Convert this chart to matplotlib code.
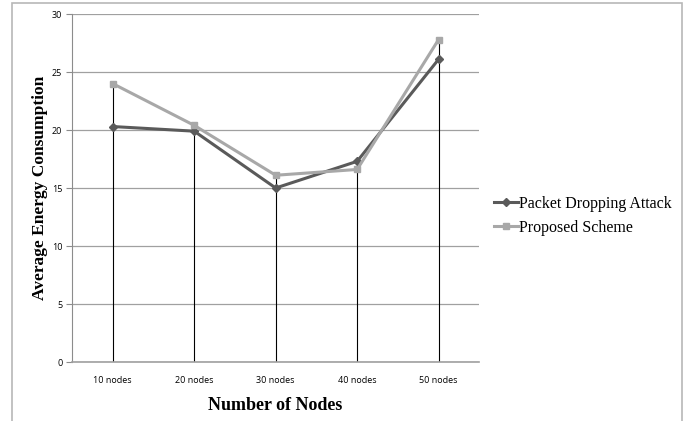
import matplotlib.pyplot as plt
import numpy as np
from matplotlib.patches import Rectangle

categories = ['10 nodes', '20 nodes', '30 nodes', '40 nodes', '50 nodes']
packet_dropping = [20.3, 19.9, 15.0, 17.3, 26.1]
proposed = [24.0, 20.4, 16.1, 16.6, 27.8]

fig = plt.figure(figsize=(6.88, 4.21), dpi=100)
ax = fig.add_axes([0.1047, 0.1401, 0.592, 0.8266])

x = np.arange(len(categories))

# outer chart border (bottom edge falls outside the image)
fig.add_artist(Rectangle((12/688, -0.05), 670/688, 1.05 - 3/421, transform=fig.transFigure,
                         fill=False, edgecolor='#b8b8b8', lw=1.2))

# drop lines
ax.vlines(x, 0, np.maximum(packet_dropping, proposed), color='black', lw=0.8, zorder=2)

ax.plot(x, packet_dropping, color='#5a5a5a', lw=2.2, marker='D', ms=4.5,
        label='Packet Dropping Attack', zorder=3)
ax.plot(x, proposed, color='#a8a8a8', lw=2.2, marker='s', ms=5,
        label='Proposed Scheme', zorder=3)

ax.set_xlim(-0.5, len(categories) - 0.5)
ax.set_ylim(0, 30)
ax.set_yticks(range(0, 31, 5))
ax.set_xticks(x)
ax.set_xticklabels(categories)
ax.tick_params(axis='x', length=0, pad=10, labelsize=6.5)
ax.tick_params(axis='y', length=4, color='#8c8c8c', labelsize=6.5, pad=3)
for lab in ax.get_xticklabels() + ax.get_yticklabels():
    lab.set_fontfamily('Open Sans')

ax.grid(axis='y', color='#a0a0a0', lw=0.9)
ax.set_axisbelow(True)
for s in ['top', 'right']:
    ax.spines[s].set_visible(False)
ax.spines['left'].set_color('#8c8c8c')
ax.spines['bottom'].set_color('#a0a0a0')
ax.spines['bottom'].set_linewidth(1.2)

ax.set_ylabel('Average Energy Consumption', fontfamily='Liberation Serif',
              fontweight='bold', fontsize=12.5, labelpad=3)
ax.set_xlabel('Number of Nodes', fontfamily='Liberation Serif',
              fontweight='bold', fontsize=13, labelpad=9)

ax.legend(loc='center left', bbox_to_anchor=(1.0, 0.42), frameon=False,
          prop={'family': 'Liberation Serif', 'size': 11.5},
          handlelength=1.5, handletextpad=0.1, labelspacing=0.5)

fig.savefig('out.png', dpi=100)
